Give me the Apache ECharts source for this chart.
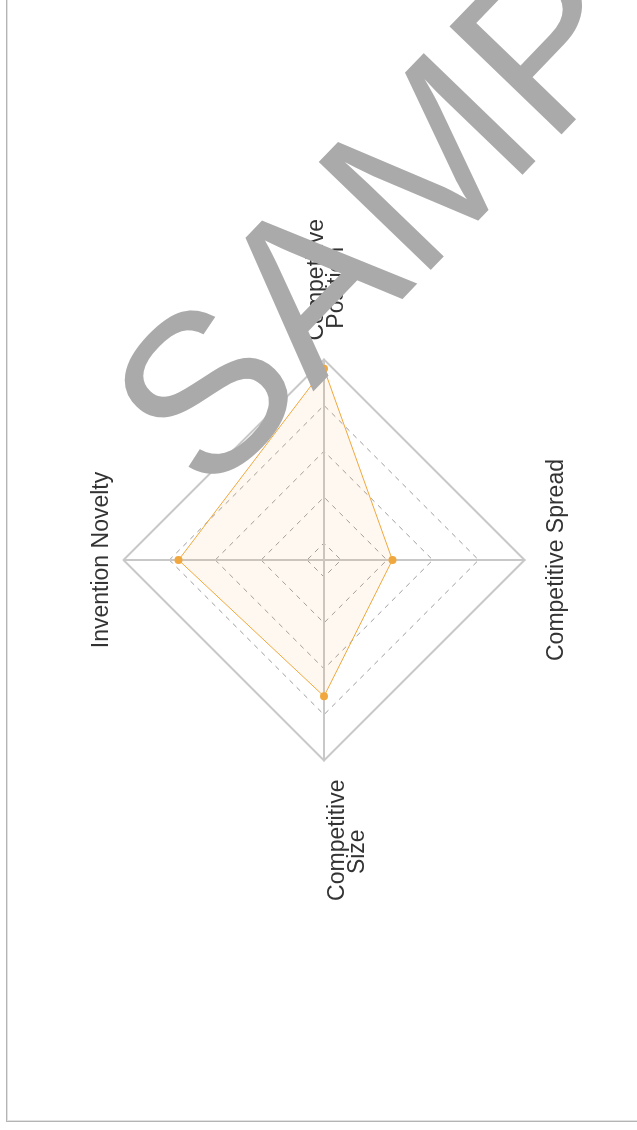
<!DOCTYPE html>
<html>
<head>
<meta charset="utf-8">
<style>
  html, body { margin: 0; padding: 0; background: #fff; overflow: hidden; }
  body { width: 637px; height: 1130px; position: relative; }
  /* frame lines along the left and bottom edges */
  #frame {
    position: absolute; left: 6px; top: -10px; width: 700px; height: 1132px;
    box-sizing: border-box;
    border-left: 1px solid #b4b4b4; border-bottom: 1px solid #b4b4b4;
    box-shadow: inset 1px -1px 0 #e2e2e2;
  }
  /* the chart is laid out landscape and turned a quarter turn counter-clockwise */
  #chart {
    position: absolute; left: 0; top: 0; width: 1130px; height: 637px;
    transform-origin: 0 0;
    transform: translate(0, 1130px) rotate(-90deg);
  }
</style>
<script src="https://cdn.jsdelivr.net/npm/echarts@6/dist/echarts.min.js"></script>
</head>
<body>
<div id="frame"></div>
<div id="chart"></div>
<script>
// Indicators, listed from the top going round the radar
const indicatorNames = ['Invention Novelty', 'Competitive Size', 'Competitive Spread', 'Competitive Position'];
const indicatorMax = [100, 100, 100, 100];
const scores = [70, 65, 28, 95];
const watermarkText = 'SAMPLE';

const indicators = indicatorNames.map((name, i) => ({ name: name, min: 0, max: indicatorMax[i] }));

const FONT = 'Liberation Sans, Arial, sans-serif';
const nameStyle = { color: '#333', fontSize: 23, lineHeight: 20, fontFamily: FONT };

// layout of each axis name: side labels are broken onto two lines
function formatName(name) {
  const words = name.split(' ');
  switch (name) {
    case 'Competitive Size':      // left of the radar
      return '{g1| }\n{l|' + words[0] + '}\n{l2|' + words[1] + '}';
    case 'Competitive Position':  // right of the radar
      return '{g2| }\n{r|' + words[0] + '}\n{r2|' + words[1] + '}';
    case 'Competitive Spread':    // below the radar
      return '{g3| }\n{t|' + name + '}';
    default:
      return '{t|' + name + '}';
  }
}

const chart = echarts.init(document.getElementById('chart'), null, { renderer: 'canvas' });
const center = [570, 324];
const outerRadius = 200.5;

chart.setOption({
  animation: false,
  backgroundColor: 'transparent',
  radar: [
    {
      // outer frame, spokes and axis names
      center: center,
      radius: outerRadius,
      splitNumber: 1,
      startAngle: 90,
      shape: 'polygon',
      indicator: indicators,
      axisName: Object.assign({}, nameStyle, {
        formatter: formatName,
        rich: {
          t: Object.assign({}, nameStyle),
          l: Object.assign({}, nameStyle, { padding: [0, 7, 0, 0] }),
          l2: Object.assign({}, nameStyle, { align: 'center', padding: [0, 30, 0, 0] }),
          r: Object.assign({}, nameStyle, { padding: [0, 0, 0, 7] }),
          r2: Object.assign({}, nameStyle, { align: 'center', padding: [0, 9, 0, 0] }),
          g1: { fontSize: 1, lineHeight: 48 },
          g2: { fontSize: 1, lineHeight: 6 },
          g3: { fontSize: 1, lineHeight: 10 }
        }
      }),
      nameGap: 12,
      axisLine: { show: true, lineStyle: { color: '#c8c8c8', width: 2 } },
      splitLine: { show: true, lineStyle: { color: '#c8c8c8', width: 2 } },
      splitArea: { show: false },
      axisTick: { show: false },
      axisLabel: { show: false }
    },
    {
      // dashed inner rings
      center: center,
      radius: [17, outerRadius],
      splitNumber: 4,
      startAngle: 90,
      shape: 'polygon',
      indicator: indicators,
      axisName: { show: false },
      axisLine: { show: false },
      splitLine: {
        show: true,
        lineStyle: {
          color: ['#9c9c9c', '#9c9c9c', '#9c9c9c', '#9c9c9c', 'rgba(0,0,0,0)'],
          width: 1,
          type: [5, 5]
        }
      },
      splitArea: { show: false },
      axisTick: { show: false },
      axisLabel: { show: false }
    }
  ],
  series: [
    {
      type: 'radar',
      radarIndex: 1,
      z: 1,
      symbol: 'circle',
      symbolSize: 8,
      lineStyle: { color: '#f0a83e', width: 1 },
      itemStyle: { color: '#f0a83e' },
      areaStyle: { color: 'rgba(240, 168, 62, 0.11)' },
      data: [{ value: scores, name: 'Score' }]
    }
  ],
  graphic: [
    {
      type: 'text',
      z: 100,
      x: 1003,
      y: 482,
      rotation: -44 * Math.PI / 180,
      style: {
        text: watermarkText,
        fill: '#aaaaaa',
        fontSize: 226,
        fontFamily: FONT,
        textAlign: 'center',
        textVerticalAlign: 'middle'
      }
    }
  ]
});
</script>
</body>
</html>
